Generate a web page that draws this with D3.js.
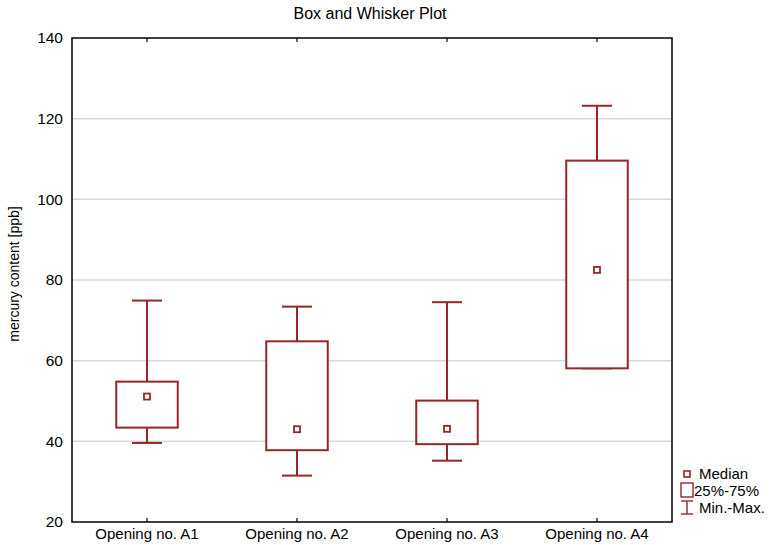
<!DOCTYPE html>
<html>
<head>
<meta charset="utf-8">
<script src="https://cdn.jsdelivr.net/npm/d3@7"></script>
<style>
  body { margin: 0; background: #fff; }
  text { font-family: "Liberation Sans", Arial, sans-serif; }
</style>
</head>
<body>
<script>
// data
var categories = ["Opening no. A1", "Opening no. A2", "Opening no. A3", "Opening no. A4"];
var minVals    = [39.6, 31.5, 35.2, 58.1];
var q1Vals     = [43.4, 37.8, 39.3, 58.1];
var medianVals = [51.1, 43.0, 43.1, 82.5];
var q3Vals     = [54.8, 64.8, 50.1, 109.6];
var maxVals    = [74.9, 73.4, 74.5, 123.2];
var yTicks     = [20, 40, 60, 80, 100, 120, 140];
var legendLabels = ["Median", "25%-75%", "Min.-Max."];

function drawChart() {
    var width = 774, height = 545;
    var margin = {top: 38, right: 102, bottom: 23, left: 72};
    var chartWidth = width - margin.left - margin.right;
    var chartHeight = height - margin.top - margin.bottom;
    var col = "#982628";

    var rows = [];
    for (var i = 0; i < categories.length; i++) {
        rows.push({name: categories[i], min: minVals[i], q1: q1Vals[i],
                   med: medianVals[i], q3: q3Vals[i], max: maxVals[i]});
    }

    var xScale = d3.scaleBand().domain(categories).range([0, chartWidth]);
    var yScale = d3.scaleLinear().domain([20, 140]).range([chartHeight, 0]);

    var svg = d3.select("body").append("svg")
        .attr("width", width)
        .attr("height", height);

    svg.append("text")
        .attr("x", margin.left + chartWidth / 2 - 2)
        .attr("y", 19)
        .attr("text-anchor", "middle")
        .style("font-size", "16px")
        .text("Box and Whisker Plot");

    var g = svg.append("g")
        .attr("transform", "translate(" + margin.left + "," + margin.top + ")");

    // gridlines
    g.selectAll(".grid").data(yTicks.slice(1, -1)).enter()
        .append("line")
        .attr("x1", 0).attr("x2", chartWidth)
        .attr("y1", function(d) { return yScale(d); })
        .attr("y2", function(d) { return yScale(d); })
        .attr("stroke", "#d9d9d9")
        .attr("stroke-width", 1.5);

    // axes
    var yAxis = d3.axisLeft(yScale).tickValues(yTicks).tickSize(0).tickPadding(9);
    var yG = g.append("g").call(yAxis);
    yG.select(".domain").remove();
    yG.selectAll("text").style("font-size", "15.5px").attr("fill", "#000");

    var xAxis = d3.axisBottom(xScale).tickSize(-4).tickPadding(6);
    var xG = g.append("g").attr("transform", "translate(0," + chartHeight + ")").call(xAxis);
    xG.select(".domain").remove();
    xG.selectAll("text").style("font-size", "15px").attr("fill", "#000");
    xG.selectAll(".tick line").attr("stroke-width", 1.2);

    var xTop = d3.axisTop(xScale).tickSize(-4).tickFormat("");
    var xTG = g.append("g").call(xTop);
    xTG.select(".domain").remove();
    xTG.selectAll(".tick line").attr("stroke-width", 1.2);

    g.append("rect")
        .attr("width", chartWidth).attr("height", chartHeight)
        .attr("fill", "none").attr("stroke", "#000").attr("stroke-width", 1.5);

    g.append("text")
        .attr("transform", "translate(" + (-53) + "," + (chartHeight / 2 - 6) + ") rotate(-90)")
        .attr("text-anchor", "middle")
        .style("font-size", "14px")
        .text("mercury content [ppb]");

    var boxW = xScale.bandwidth() * 0.41;
    var capW = xScale.bandwidth() * 0.2;

    var boxes = g.selectAll(".box").data(rows).enter().append("g")
        .attr("transform", function(d) { return "translate(" + (xScale(d.name) + xScale.bandwidth() / 2) + ",0)"; });

    boxes.append("line")
        .attr("x1", 0).attr("x2", 0)
        .attr("y1", function(d) { return yScale(d.max); })
        .attr("y2", function(d) { return yScale(d.q3); })
        .attr("stroke", col).attr("stroke-width", 2);
    boxes.append("line")
        .attr("x1", 0).attr("x2", 0)
        .attr("y1", function(d) { return yScale(d.q1); })
        .attr("y2", function(d) { return yScale(d.min); })
        .attr("stroke", col).attr("stroke-width", 2);
    boxes.append("line")
        .attr("x1", -capW / 2).attr("x2", capW / 2)
        .attr("y1", function(d) { return yScale(d.max); })
        .attr("y2", function(d) { return yScale(d.max); })
        .attr("stroke", col).attr("stroke-width", 2);
    boxes.append("line")
        .attr("x1", -capW / 2).attr("x2", capW / 2)
        .attr("y1", function(d) { return yScale(d.min); })
        .attr("y2", function(d) { return yScale(d.min); })
        .attr("stroke", col).attr("stroke-width", 2);
    boxes.append("rect")
        .attr("x", -boxW / 2).attr("width", boxW)
        .attr("y", function(d) { return yScale(d.q3); })
        .attr("height", function(d) { return yScale(d.q1) - yScale(d.q3); })
        .attr("fill", "#fff").attr("stroke", col).attr("stroke-width", 2);
    boxes.append("rect")
        .attr("x", -3).attr("width", 6)
        .attr("y", function(d) { return yScale(d.med) - 3; })
        .attr("height", 6)
        .attr("fill", "#fff").attr("stroke", col).attr("stroke-width", 1.8);

    // legend
    var lg = svg.append("g").attr("transform", "translate(680,0)");
    lg.append("rect").attr("x", 4).attr("y", 471).attr("width", 6).attr("height", 6)
        .attr("fill", "none").attr("stroke", col).attr("stroke-width", 1.6);
    lg.append("rect").attr("x", 1).attr("y", 483).attr("width", 12).attr("height", 14)
        .attr("fill", "none").attr("stroke", col).attr("stroke-width", 1.4);
    lg.append("line").attr("x1", 7).attr("x2", 7).attr("y1", 501).attr("y2", 514)
        .attr("stroke", col).attr("stroke-width", 1.4);
    lg.append("line").attr("x1", 1).attr("x2", 13).attr("y1", 501).attr("y2", 501)
        .attr("stroke", col).attr("stroke-width", 1.4);
    lg.append("line").attr("x1", 1).attr("x2", 13).attr("y1", 514).attr("y2", 514)
        .attr("stroke", col).attr("stroke-width", 1.4);
    lg.selectAll(".lt").data(legendLabels).enter().append("text")
        .attr("x", function(d, i) { return i == 1 ? 14 : 19; })
        .attr("y", function(d, i) { return 479 + i * 17; })
        .style("font-size", "15px")
        .text(function(d) { return d; });
}
drawChart();
</script>
</body>
</html>
